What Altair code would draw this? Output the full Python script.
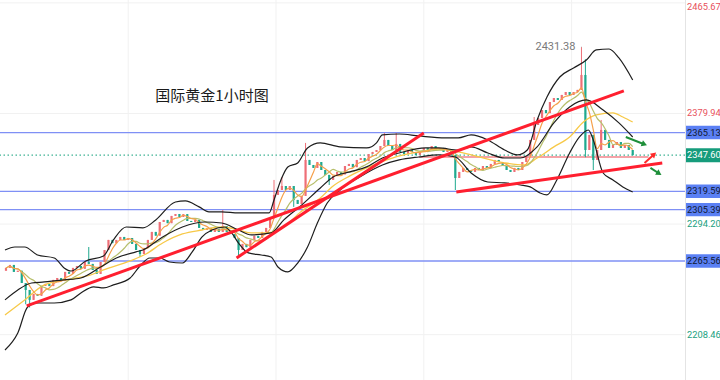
import altair as alt
import pandas as pd

# ---------------- data ----------------
closes = [
    2260.2, 2262.5, 2257.1, 2258.0, 2248.5, 2243.1, 2235.4, 2240.0, 2238.6, 2246.2,
    2247.8, 2246.1, 2250.9, 2252.4, 2250.0, 2257.1, 2255.6, 2260.2, 2261.7, 2259.5,
    2264.8, 2263.3, 2258.6, 2255.5, 2264.8, 2274.1, 2281.9, 2279.4, 2281.9, 2284.2,
    2281.9, 2283.4, 2278.8, 2274.1, 2271.0, 2275.7, 2281.9, 2288.1, 2285.2, 2295.8,
    2297.4, 2294.9, 2300.5, 2302.0, 2299.7, 2301.9, 2296.6, 2295.8, 2297.5, 2291.2,
    2289.6, 2291.2, 2288.1, 2290.4, 2288.1, 2292.7, 2288.1, 2286.5, 2283.4, 2274.1,
    2278.8, 2276.3, 2281.9, 2285.0, 2283.4, 2288.1, 2291.2, 2298.9, 2316.8, 2320.6,
    2323.7, 2320.6, 2323.7, 2312.9, 2309.8, 2316.0, 2343.9, 2340.0, 2337.7, 2342.3,
    2336.1, 2332.3, 2328.4, 2331.5, 2334.6, 2332.7, 2339.2, 2340.8, 2338.3, 2343.9,
    2345.4, 2343.0, 2348.5, 2350.1, 2351.6, 2354.7, 2359.4, 2354.7, 2351.6, 2356.3,
    2350.1, 2348.5, 2351.6, 2350.1, 2347.8, 2350.1, 2353.2, 2351.6, 2354.7, 2351.6,
    2353.2, 2350.1, 2351.6, 2347.8, 2329.9, 2334.6, 2337.7, 2336.1, 2334.6, 2337.7,
    2336.1, 2339.2, 2337.7, 2340.8, 2343.9, 2342.3, 2339.2, 2336.1, 2334.6, 2337.7,
    2336.1, 2342.3, 2347.0, 2359.4, 2371.0, 2376.4, 2382.6, 2380.2, 2388.8, 2391.9,
    2390.4, 2394.3, 2396.6, 2394.3, 2396.6, 2398.2, 2409.8, 2351.6, 2363.3, 2343.9,
    2351.6, 2367.2, 2359.4, 2353.2, 2355.5, 2357.8, 2353.2, 2355.5, 2351.6, 2347.6,
]
first_open = 2258.0
high_marks = {21: 2276.4, 55: 2305.1, 68: 2328.4, 70: 2330.7, 76: 2357.1, 96: 2364.8,
              99: 2364.8, 134: 2377.2, 146: 2431.38, 147: 2422.0, 151: 2374.9}
low_marks = {5: 2232.0, 6: 2229.5, 34: 2268.7, 59: 2267.9, 73: 2307.5, 82: 2324.5,
             114: 2320.6, 147: 2346.0, 149: 2336.1}

upper_t = [-0.25, 2.25, 4.75, 8, 12.25, 14.75, 16.5, 20.25, 24.75, 27.25,
           30.5, 34.75, 38, 43, 45.5, 49, 51.5, 54.75, 59, 63,
           66.75, 68, 69.75, 71.5, 74, 76.5, 79.75, 84.75, 91.5, 94,
           95.5, 99.75, 104.75, 111.5, 114.75, 118, 122.25, 126.5, 129.75, 132.25,
           134.75, 137.25, 140.5, 144, 147.25, 149.75, 153, 155.5, 159]
upper_p = [2274.1, 2276.4, 2276.4, 2270.2, 2267.9, 2260.2, 2257.8, 2265.6, 2269.5, 2281.9,
           2291.9, 2291.2, 2297.4, 2311.3, 2312.1, 2307.5, 2303.6, 2303.6, 2302.8, 2302.8,
           2302.8, 2312.9, 2328.4, 2338.5, 2341.6, 2353.2, 2357.1, 2354.0, 2353.2, 2357.1,
           2363.3, 2364.0, 2362.5, 2361.0, 2361.0, 2363.3, 2359.4, 2351.6, 2347.8, 2351.6,
           2374.9, 2392.7, 2408.2, 2415.2, 2421.4, 2429.2, 2429.9, 2423.0, 2405.9]

mid_t = [-0.25, 3, 6.5, 9.75, 14.75, 19, 24, 28, 33, 34.75,
         39.75, 44.75, 50.5, 54.75, 59, 62.25, 67.25, 70.5, 74.75, 79.75,
         83, 87.25, 91.5, 95.5, 99.75, 106.5, 109.75, 114.75, 118, 122.25,
         126.5, 130.5, 134.75, 139, 143, 147.25, 151.5, 155.5, 159]
mid_p = [2235.4, 2243.1, 2248.5, 2249.3, 2250.9, 2252.4, 2260.9, 2267.9, 2272.6, 2274.1,
         2284.2, 2291.9, 2295.8, 2295.0, 2289.6, 2285.8, 2287.3, 2297.4, 2308.2, 2322.2,
         2330.7, 2334.6, 2338.5, 2345.4, 2349.3, 2353.2, 2353.2, 2351.6, 2354.0, 2349.3,
         2345.4, 2345.4, 2354.0, 2372.6, 2385.0, 2390.4, 2382.6, 2372.6, 2361.7]

lower_t = [-0.25, 3, 5.5, 8, 12.25, 16.5, 19, 22.25, 24.75, 27.25,
           31.5, 34, 36.5, 39, 41.5, 44.75, 47.25, 49.75, 52.25, 55.5,
           57.25, 59, 61.5, 64.75, 67.25, 69, 71.5, 74, 76.5, 79,
           81.5, 84.75, 89.75, 95.5, 99.75, 104.75, 109.75, 114, 118, 122.25,
           126.5, 130.5, 133, 135.5, 137.25, 139.75, 143, 145.5, 147.75, 149,
           151.5, 154, 156.5, 159]
lower_p = [2196.6, 2209.8, 2229.9, 2233.0, 2233.0, 2235.4, 2240.8, 2245.5, 2244.7, 2247.0,
           2252.4, 2261.7, 2267.9, 2267.9, 2264.8, 2264.0, 2272.6, 2284.2, 2289.6, 2291.9,
           2287.3, 2279.5, 2271.8, 2270.2, 2268.7, 2260.9, 2257.1, 2264.0, 2276.4, 2295.0,
           2310.5, 2320.6, 2330.7, 2340.0, 2343.9, 2346.2, 2347.8, 2346.2, 2333.8, 2326.8,
           2326.1, 2324.5, 2323.0, 2318.3, 2316.8, 2328.4, 2349.3, 2361.7, 2367.1, 2359.4,
           2333.8, 2328.4, 2323.0, 2319.1]

slow_t = [-0.25, 4.75, 9.75, 16.5, 21.5, 24.75, 31.5, 35.5, 39.75, 44.75,
          49.75, 54.75, 59, 62.25, 65.5, 68, 70.5, 74.75, 79.75, 83,
          87.25, 91.5, 98, 104.75, 109.75, 114.75, 118, 126.5, 131.5, 134.75,
          139, 143, 146.5, 149.75, 154, 156.5, 159]
slow_p = [2223.7, 2235.4, 2247.0, 2251.6, 2254.7, 2258.6, 2265.6, 2271.0, 2279.5, 2286.5,
          2289.6, 2291.9, 2289.6, 2287.3, 2287.3, 2288.1, 2291.9, 2303.6, 2314.4, 2323.7,
          2331.5, 2337.7, 2345.4, 2350.1, 2352.4, 2350.1, 2347.8, 2341.6, 2340.0, 2345.4,
          2354.0, 2361.7, 2373.3, 2378.8, 2380.4, 2377.2, 2373.3]

trend_id = ["A", "A", "B", "B", "C", "C"]
trend_t = [5.25, 156.75, 58.5, 106, 114.25, 166.5]
trend_p = [2230.7, 2397.4, 2267.9, 2364.8, 2319.1, 2341.6]

pink_t = [104.75, 163]
pink_p = 2346.2

level_prices = [2365.13, 2319.59, 2305.39, 2265.56]
last_price = 2347.60
axis_up = [2379.94]
axis_top = [2465.67]
axis_down = [2294.20, 2208.46]
grid_prices = [2465.67, 2379.94, 2294.20, 2208.46]
grid_t = [31, 68.5, 106, 143.5]
peak_price = 2431.38
peak_t = 146

arrow_id = ["g1", "g2", "r1"]
arrow_t0 = [157.25, 163.5, 162.0]
arrow_p0 = [2361.7, 2337.7, 2341.6]
arrow_t1 = [161.75, 165.5, 164.25]
arrow_p1 = [2356.3, 2333.8, 2347.8]
arrow_angle = [111, 122, 48]
arrow_color = ["#1e8f3a", "#1e8f3a", "#ff2a2a"]

title_text = "国际黄金1小时图"

# ---------------- tables ----------------
opens = [first_open] + closes[:-1]
highs = [high_marks.get(i, max(o, c)) for i, (o, c) in enumerate(zip(opens, closes))]
lows = [low_marks.get(i, min(o, c)) for i, (o, c) in enumerate(zip(opens, closes))]
candles = pd.DataFrame({"t": list(range(len(closes))), "open": opens, "close": closes,
                        "high": highs, "low": lows})

bands = pd.concat([
    pd.DataFrame({"t": upper_t, "p": upper_p, "band": "upper"}),
    pd.DataFrame({"t": mid_t, "p": mid_p, "band": "mid"}),
    pd.DataFrame({"t": lower_t, "p": lower_p, "band": "lower"}),
])
slow = pd.DataFrame({"t": slow_t, "p": slow_p})
trends = pd.DataFrame({"id": trend_id, "t": trend_t, "p": trend_p})
pink = pd.DataFrame({"t": pink_t, "p": [pink_p, pink_p]})
levels = pd.DataFrame({"p": level_prices, "label": [f"{v:.2f}" for v in level_prices]})
last_df = pd.DataFrame({"p": [last_price], "label": [f"{last_price:.2f}"]})
grid_p_df = pd.DataFrame({"p": grid_prices})
grid_t_df = pd.DataFrame({"t": grid_t})
ax_up = pd.DataFrame({"p": axis_up, "label": [f"{v:.2f}" for v in axis_up]})
ax_top = pd.DataFrame({"p": axis_top, "label": [f"{v:.2f}" for v in axis_top]})
ax_down = pd.DataFrame({"p": axis_down, "label": [f"{v:.2f}" for v in axis_down]})
peak = pd.DataFrame({"t": [peak_t], "p": [peak_price], "label": [f"{peak_price:.2f}"]})
arrows = pd.DataFrame({"id": arrow_id, "t0": arrow_t0, "p0": arrow_p0, "t1": arrow_t1,
                       "p1": arrow_p1, "angle": arrow_angle, "color": arrow_color})

# ---------------- scales ----------------
xs = alt.Scale(domain=[-0.25, 171], nice=False, zero=False)
ys = alt.Scale(domain=[2173.3, 2467.9], nice=False, zero=False)
X = lambda f: alt.X(f, scale=xs, axis=None)
Y = lambda f: alt.Y(f, scale=ys, axis=None)

FONT = "Roboto"
AX_FONT = "Roboto"
AX_FS = 9.3
AX_X = 687
layers = []

# grid
layers.append(alt.Chart(grid_p_df).mark_rule(color="#f1f1f1", strokeWidth=1).encode(y=Y("p:Q")))
layers.append(alt.Chart(grid_t_df).mark_rule(color="#f1f1f1", strokeWidth=1).encode(x=X("t:Q")))
# right axis separator
layers.append(alt.Chart(grid_t_df.head(1)).mark_rule(color="#e4e4e4", strokeWidth=1).encode(
    x=alt.value(685.5), y=alt.value(0), y2=alt.value(380)))

# horizontal levels
layers.append(alt.Chart(levels).mark_rule(color="#7f90f5", strokeWidth=1.3).encode(y=Y("p:Q")))
layers.append(alt.Chart(last_df).mark_rule(color="#3fb394", strokeWidth=1.2, strokeDash=[1.5, 2.5]).encode(y=Y("p:Q")))

# pink horizontal line
layers.append(alt.Chart(pink).mark_line(color="#f5a3a8", strokeWidth=2, clip=True).encode(x=X("t:Q"), y=Y("p:Q")))

# candles
cc = alt.Color("dir:N", scale=alt.Scale(domain=["up", "down"], range=["#ee6f77", "#1fa98e"]), legend=None)
cbase = alt.Chart(candles).transform_calculate(dir="datum.close >= datum.open ? 'up' : 'down'")
layers.append(cbase.mark_rule(strokeWidth=1, clip=True).encode(x=X("t:Q"), y=Y("low:Q"), y2="high:Q", color=cc))
layers.append(cbase.mark_bar(size=2.2, clip=True).encode(x=X("t:Q"), y=Y("open:Q"), y2="close:Q", color=cc))

# moving averages
layers.append(alt.Chart(slow).mark_line(color="#f7c948", strokeWidth=1.3, interpolate="monotone", clip=True)
              .encode(x=X("t:Q"), y=Y("p:Q")))
layers.append(alt.Chart(candles).transform_window(ma_m="mean(close)", frame=[-7, 0], sort=[alt.SortField("t")])
              .mark_line(color="#b7bf6c", strokeWidth=1.2, interpolate="monotone", clip=True)
              .encode(x=X("t:Q"), y=Y("ma_m:Q")))
layers.append(alt.Chart(candles).transform_window(ma_f="mean(close)", frame=[-3, 0], sort=[alt.SortField("t")])
              .mark_line(color="#f5a04a", strokeWidth=1.2, interpolate="monotone", clip=True)
              .encode(x=X("t:Q"), y=Y("ma_f:Q")))

# bollinger bands
layers.append(alt.Chart(bands).mark_line(color="#1e1e1e", strokeWidth=1.2, interpolate="monotone", clip=True)
              .encode(x=X("t:Q"), y=Y("p:Q"), detail="band:N"))

# red trend lines
layers.append(alt.Chart(trends).mark_line(color="#ff1f2f", strokeWidth=3, clip=True)
              .encode(x=X("t:Q"), y=Y("p:Q"), detail="id:N"))

# arrows
layers.append(alt.Chart(arrows).mark_rule(strokeWidth=2, clip=True)
              .encode(x=X("t0:Q"), y=Y("p0:Q"), x2="t1:Q", y2="p1:Q", color=alt.Color("color:N", scale=None)))
layers.append(alt.Chart(arrows).mark_point(shape="triangle", filled=True, size=40, opacity=1, clip=True)
              .encode(x=X("t1:Q"), y=Y("p1:Q"), angle=alt.Angle("angle:Q", scale=None),
                      color=alt.Color("color:N", scale=None)))

# peak annotation
layers.append(alt.Chart(peak).mark_text(align="right", baseline="middle", dx=-6, font=FONT, fontSize=11, color="#7a7a7a")
              .encode(x=X("t:Q"), y=Y("p:Q"), text="label:N"))
layers.append(alt.Chart(peak).mark_rule(color="#9a9a9a", strokeDash=[1, 1.5], strokeWidth=1)
              .encode(x=X("t:Q"), y=Y("p:Q"), x2=alt.value(582)))

# title
layers.append(alt.Chart(pd.DataFrame({"label": [title_text]})).mark_text(
    font="Noto Sans CJK SC", fontSize=15, color="#1a1a1a", align="center", baseline="middle")
    .encode(x=alt.value(212), y=alt.value(96), text="label:N"))

# right axis labels
layers.append(alt.Chart(ax_up).mark_text(align="left", baseline="middle", font=AX_FONT, fontSize=AX_FS, color="#e8505b")
              .encode(x=alt.value(AX_X), y=Y("p:Q"), text="label:N"))
layers.append(alt.Chart(ax_top).mark_text(align="left", baseline="top", font=AX_FONT, fontSize=AX_FS, color="#e8505b")
              .encode(x=alt.value(AX_X), y=Y("p:Q"), text="label:N"))
layers.append(alt.Chart(ax_down).mark_text(align="left", baseline="middle", font=AX_FONT, fontSize=AX_FS, color="#1aa080")
              .encode(x=alt.value(AX_X), y=Y("p:Q"), text="label:N"))

# label boxes
layers.append(alt.Chart(levels).transform_calculate(a="datum.p + 5.2", b="datum.p - 5.2")
              .mark_rect(color="#5b80f4").encode(x=alt.value(686), x2=alt.value(722), y=Y("a:Q"), y2="b:Q"))
layers.append(alt.Chart(levels).mark_text(align="left", baseline="middle", font=AX_FONT, fontSize=AX_FS, color="#101830")
              .encode(x=alt.value(AX_X), y=Y("p:Q"), text="label:N"))
layers.append(alt.Chart(last_df).transform_calculate(a="datum.p + 5.4", b="datum.p - 5.4")
              .mark_rect(color="#169c7c").encode(x=alt.value(686), x2=alt.value(722), y=Y("a:Q"), y2="b:Q"))
layers.append(alt.Chart(last_df).mark_text(align="left", baseline="middle", font=AX_FONT, fontSize=AX_FS, color="white")
              .encode(x=alt.value(AX_X), y=Y("p:Q"), text="label:N"))

chart = alt.layer(*layers).properties(
    width=685, height=380,
    padding={"left": 0, "right": 35, "top": 0, "bottom": 0},
    autosize=alt.AutoSizeParams(type="none"),
    background="white",
).configure_view(stroke=None)

chart.save("out.html", embed_options={"renderer": "svg", "actions": False})
